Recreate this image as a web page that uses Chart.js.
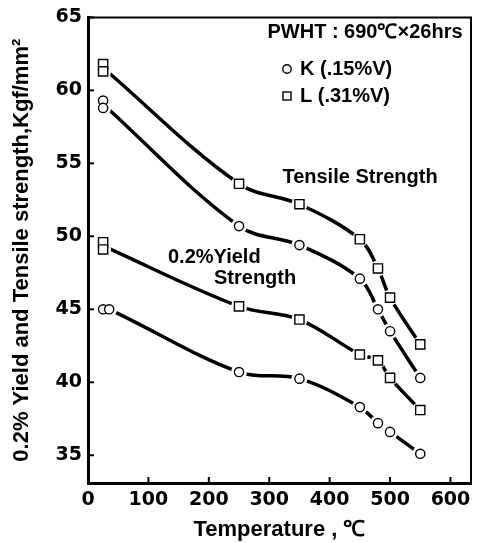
<!DOCTYPE html>
<html lang="en">
<head>
<meta charset="UTF-8">
<title>Yield and tensile strength vs temperature</title>
<script src="https://cdn.jsdelivr.net/npm/chart.js"></script>
<style>
  html, body { margin: 0; padding: 0; background: #fff; }
</style>
</head>
<body>
<canvas id="grafico" width="479" height="543"></canvas>
<script>
// test temperatures, degC
const tempTensile = [25, 25, 250, 350, 450, 480, 500, 550];
const tempYieldL = [25, 25, 250, 350, 450, 480, 500, 550];
const tempYieldK = [25, 35, 250, 350, 450, 480, 500, 550];

// strength values, Kgf/mm2
const tensileL = [61.8, 61.3, 53.6, 52.2, 49.8, 47.8, 45.8, 42.6];
const tensileK = [59.3, 58.8, 50.7, 49.4, 47.1, 45.0, 43.5, 40.3];
const yieldL = [49.6, 49.1, 45.2, 44.3, 41.9, 41.5, 40.3, 38.1];
const yieldK = [45.0, 45.0, 40.7, 40.25, 38.3, 37.2, 36.6, 35.1];

const xTicks = [0, 100, 200, 300, 400, 500, 600];
const yTicks = [35, 40, 45, 50, 55, 60, 65];

const fonteNum = "'DejaVu Sans'";
const fonteTxt = "'Liberation Sans', Arial";

function pontos(xs, ys) {
    return xs.map(function (x, i) { return { x: x, y: ys[i] }; });
}

// curve: same points, duplicated temperatures averaged
function curva(xs, ys) {
    let out = [];
    for (let i = 0; i < xs.length; i++) {
        let ult = out[out.length - 1];
        if (ult && ult.x === xs[i]) {
            ult.n++;
            ult.soma += ys[i];
            ult.y = ult.soma / ult.n;
        } else {
            out.push({ x: xs[i], y: ys[i], soma: ys[i], n: 1 });
        }
    }
    return out.map(function (p) { return { x: p.x, y: p.y }; });
}

const series = [
    { xs: tempTensile, ys: tensileL, estilo: 'rect' },
    { xs: tempTensile, ys: tensileK, estilo: 'circle' },
    { xs: tempYieldL, ys: yieldL, estilo: 'rect' },
    { xs: tempYieldK, ys: yieldK, estilo: 'circle' }
];

let datasets = [];
series.forEach(function (s) {
    // the fitted curve
    datasets.push({
        data: curva(s.xs, s.ys),
        borderColor: '#000',
        borderWidth: 3.5,
        tension: 0.35,
        pointRadius: 0,
        fill: false,
        order: 2
    });
    // white patch so the curve stops short of the marker
    datasets.push({
        data: pontos(s.xs, s.ys),
        showLine: false,
        pointStyle: 'circle',
        pointRadius: 8,
        pointBackgroundColor: '#fff',
        pointBorderWidth: 0,
        order: 1
    });
    // the marker
    datasets.push({
        data: pontos(s.xs, s.ys),
        showLine: false,
        pointStyle: s.estilo,
        pointRadius: s.estilo === 'rect' ? 6.5 : 4.6,
        pointBackgroundColor: '#fff',
        pointBorderColor: '#000',
        pointBorderWidth: 1.4,
        order: 0
    });
});

const extras = {
    id: 'extras',
    afterDraw(chart) {
        const ctx = chart.ctx;
        const a = chart.chartArea;
        const sx = chart.scales.x, sy = chart.scales.y;
        ctx.save();
        ctx.strokeStyle = '#000';
        ctx.fillStyle = '#000';

        // top and right frame
        ctx.lineWidth = 2;
        ctx.beginPath();
        ctx.moveTo(a.left, a.top);
        ctx.lineTo(a.right, a.top);
        ctx.lineTo(a.right, a.bottom);
        ctx.stroke();

        // ticks pointing inside
        ctx.lineWidth = 2;
        xTicks.forEach(function (v) {
            const px = sx.getPixelForValue(v);
            ctx.beginPath(); ctx.moveTo(px, a.bottom); ctx.lineTo(px, a.bottom - 6); ctx.stroke();
        });
        yTicks.forEach(function (v) {
            const py = sy.getPixelForValue(v);
            ctx.beginPath(); ctx.moveTo(a.left, py); ctx.lineTo(a.left + 6, py); ctx.stroke();
        });

        // texts
        ctx.font = 'bold 20px ' + fonteTxt;
        ctx.textBaseline = 'middle';
        ctx.textAlign = 'center';
        ctx.fillText('PWHT : 690℃×26hrs', 365, 32);
        ctx.fillText('Tensile Strength', 360, 177);
        ctx.textAlign = 'left';
        ctx.fillText('K (.15%V)', 300, 69);
        ctx.fillText('L (.31%V)', 300, 96);
        ctx.fillText('0.2%Yield', 168, 257);
        ctx.fillText('Strength', 214, 278);

        // legend symbols
        ctx.lineWidth = 1.4;
        ctx.beginPath(); ctx.arc(287, 69, 4.2, 0, Math.PI * 2); ctx.stroke();
        ctx.strokeRect(283, 92, 8, 8);
        ctx.restore();
    }
};

new Chart(document.getElementById('grafico'), {
    type: 'line',
    data: { datasets: datasets },
    options: {
        responsive: false,
        animation: false,
        devicePixelRatio: 1,
        layout: { padding: { top: 13, right: 7, left: 0, bottom: 0 } },
        plugins: {
            legend: { display: false },
            tooltip: { enabled: false }
        },
        scales: {
            x: {
                type: 'linear',
                min: 0,
                max: 634,
                grid: { display: false, drawTicks: false },
                border: { display: true, color: '#000', width: 3 },
                afterBuildTicks: function (s) {
                    s.ticks = xTicks.map(function (v) { return { value: v }; });
                },
                afterFit: function (s) { s.height = 60; },
                ticks: {
                    color: '#000',
                    padding: 6,
                    maxRotation: 0,
                    font: { family: fonteNum, size: 19, weight: 'bold' }
                },
                title: {
                    display: true,
                    text: 'Temperature , ℃',
                    color: '#000',
                    padding: { top: 0, bottom: 0 },
                    font: { family: fonteTxt, size: 22, weight: 'bold' }
                }
            },
            y: {
                min: 33.1,
                max: 65,
                grid: { display: false, drawTicks: false },
                border: { display: true, color: '#000', width: 3 },
                afterBuildTicks: function (s) {
                    s.ticks = yTicks.map(function (v) { return { value: v }; });
                },
                afterFit: function (s) { s.width = 88; },
                ticks: {
                    color: '#000',
                    padding: 6,
                    font: { family: fonteNum, size: 19, weight: 'bold' }
                },
                title: {
                    display: true,
                    text: '0.2% Yield and Tensile strength,Kgf/mm²',
                    color: '#000',
                    padding: { top: 9, bottom: 0 },
                    font: { family: fonteTxt, size: 22, weight: 'bold' }
                }
            }
        }
    },
    plugins: [extras]
});
</script>
</body>
</html>
